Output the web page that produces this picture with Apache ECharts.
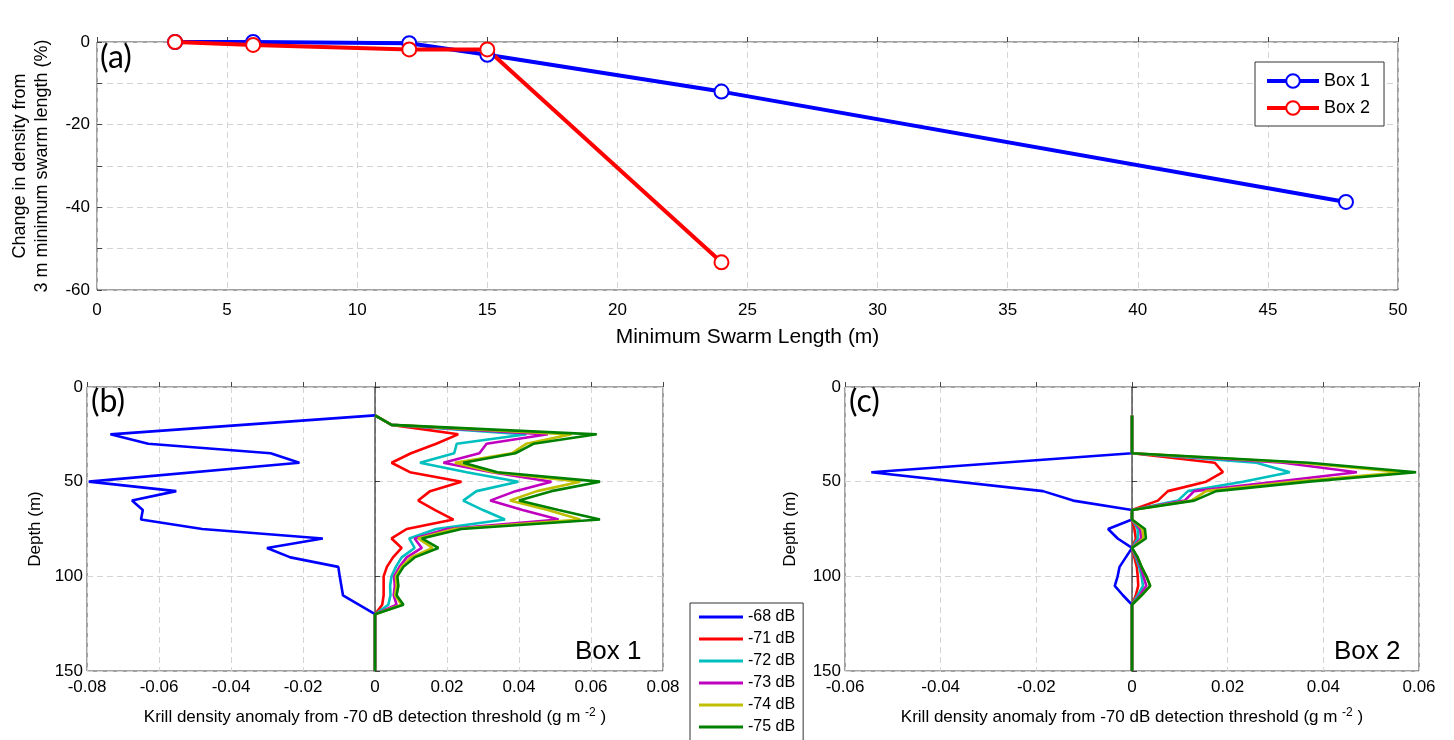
<!DOCTYPE html>
<html>
<head>
<meta charset="utf-8">
<script src="https://cdn.jsdelivr.net/npm/echarts@6/dist/echarts.min.js"></script>
<style>
  html, body { margin: 0; padding: 0; background: #fff; }
  #chart { width: 1454px; height: 740px; }
</style>
</head>
<body>
<div id="chart"></div>
<script>
// (a) change in density vs minimum swarm length
const lenBox1 = [3, 6, 12, 15, 24, 48];
const box1 = [0, 0, -0.3, -3.1, -12, -38.7];
const lenBox2 = [3, 6, 12, 15, 24];
const box2 = [0, -0.7, -1.8, -1.8, -53.3];

// (b) Box 1 anomaly profiles
const thresholds = ['-68 dB', '-71 dB', '-72 dB', '-73 dB', '-74 dB', '-75 dB'];
const depthB68 = [15, 25, 30, 35, 40, 50, 55, 60, 65, 70, 75, 80, 85, 90, 95, 100, 110, 120, 150];
const b68 = [0, -0.0735, -0.063, -0.029, -0.021, -0.0795, -0.0552, -0.0675, -0.0645, -0.065, -0.048, -0.0145, -0.030, -0.0235, -0.0102, -0.0098, -0.0089, 0, 0];
const depthB = [15, 20, 25, 30, 35, 40, 45, 50, 55, 60, 65, 70, 75, 80, 85, 90, 95, 100, 105, 110, 115, 120, 150];
const b71 = [0, 0.0046, 0.0231, 0.017, 0.010, 0.0046, 0.0097, 0.024, 0.0153, 0.012, 0.0167, 0.0218, 0.0088, 0.0046, 0.0074, 0.005, 0.0033, 0.0024, 0.0024, 0.0024, 0.002, 0, 0];
const b72 = [0, 0.0046, 0.0421, 0.0227, 0.022, 0.0125, 0.0255, 0.0398, 0.0282, 0.0245, 0.030, 0.0361, 0.017, 0.0095, 0.011, 0.0074, 0.0058, 0.0046, 0.0042, 0.0043, 0.0037, 0, 0];
const b73 = [0, 0.0046, 0.048, 0.031, 0.029, 0.019, 0.0324, 0.049, 0.039, 0.032, 0.041, 0.051, 0.020, 0.011, 0.013, 0.0088, 0.0068, 0.0053, 0.0055, 0.0052, 0.006, 0, 0];
const b74 = [0, 0.0046, 0.0546, 0.042, 0.038, 0.0222, 0.033, 0.057, 0.045, 0.0375, 0.048, 0.057, 0.022, 0.012, 0.016, 0.010, 0.0074, 0.0058, 0.006, 0.0056, 0.0074, 0, 0];
const b75 = [0, 0.0046, 0.0616, 0.044, 0.039, 0.0245, 0.034, 0.0625, 0.049, 0.040, 0.051, 0.0625, 0.024, 0.013, 0.0176, 0.011, 0.0079, 0.0062, 0.0065, 0.006, 0.0079, 0, 0];

// (c) Box 2 anomaly profiles
const depthC68 = [15, 35, 45, 55, 60, 65, 70, 75, 80, 85, 90, 95, 100, 105, 110, 115, 150];
const c68 = [0, 0, -0.0545, -0.0186, -0.0123, 0, 0, -0.005, -0.003, 0, -0.0013, -0.0026, -0.003, -0.0036, -0.0019, 0, 0];
const depthC = [15, 35, 40, 45, 50, 55, 60, 65, 70, 75, 80, 85, 90, 95, 100, 105, 110, 115, 150];
const c71 = [0, 0, 0.0173, 0.019, 0.0155, 0.0075, 0.0054, 0, 0, 0.0005, 0.0008, 0, 0.0005, 0.001, 0.0012, 0.0013, 0.0008, 0, 0];
const c72 = [0, 0, 0.026, 0.033, 0.0232, 0.0117, 0.0096, 0, 0, 0.0012, 0.0012, 0, 0.0008, 0.0015, 0.002, 0.0023, 0.0012, 0, 0];
const c73 = [0, 0, 0.0316, 0.047, 0.030, 0.013, 0.011, 0, 0, 0.0017, 0.0019, 0, 0.001, 0.0018, 0.0024, 0.003, 0.0016, 0, 0];
const c74 = [0, 0, 0.035, 0.0567, 0.034, 0.0155, 0.0124, 0, 0, 0.0022, 0.0024, 0, 0.0012, 0.002, 0.003, 0.0038, 0.002, 0, 0];
const c75 = [0, 0, 0.037, 0.0594, 0.037, 0.0176, 0.013, 0, 0, 0.0027, 0.0029, 0, 0.0012, 0.002, 0.003, 0.0038, 0.002, 0, 0];

const zeroLine = [0, 150];

const colors = ['#0000ff', '#ff0000', '#00bfbf', '#bf00bf', '#bfbf00', '#008000'];
const FONT = '"Liberation Sans", Arial, sans-serif';

const profB = [[depthB68, b68], [depthB, b71], [depthB, b72], [depthB, b73], [depthB, b74], [depthB, b75]];
const profC = [[depthC68, c68], [depthC, c71], [depthC, c72], [depthC, c73], [depthC, c74], [depthC, c75]];

const grid = { color: '#d4d4d4', type: [6, 4], width: 1 };
const tick = { inside: true, length: 5, lineStyle: { color: '#444' } };
const lab = { color: '#000', fontSize: 17, fontFamily: FONT };
const fmt2 = v => Math.abs(v) < 1e-9 ? '0' : v.toFixed(2);

const krillName = {
  name: 'Krill density anomaly from -70 dB detection threshold (g m {sup|-2} )',
  nameLocation: 'middle',
  nameGap: 36,
  nameTextStyle: {
    color: '#000', fontSize: 17, fontFamily: FONT,
    rich: { sup: { fontSize: 12, fontFamily: FONT, color: '#000', verticalAlign: 'bottom', padding: [0, 0, 9, 0] } }
  }
};

const series = [];
series.push({
  name: 'Box 1', type: 'line', xAxisIndex: 0, yAxisIndex: 0, clip: false,
  data: lenBox1.map((x, i) => [x, box1[i]]),
  symbol: 'emptyCircle', symbolSize: 14, color: colors[0],
  lineStyle: { width: 4 }, itemStyle: { borderWidth: 4 }
});
series.push({
  name: 'Box 2', type: 'line', xAxisIndex: 0, yAxisIndex: 0, clip: false,
  data: lenBox2.map((x, i) => [x, box2[i]]),
  symbol: 'emptyCircle', symbolSize: 14, color: colors[1],
  lineStyle: { width: 4 }, itemStyle: { borderWidth: 4 }
});

// thin black zero line in panels b and c
[1, 2].forEach(g => {
  series.push({
    type: 'line', xAxisIndex: g, yAxisIndex: g, symbol: 'none', silent: true,
    data: zeroLine.map(d => [0, d]), color: '#000', lineStyle: { width: 1 }
  });
});

[[1, profB], [2, profC]].forEach(([g, prof]) => {
  prof.forEach(([depths, vals], k) => {
    series.push({
      name: thresholds[k], type: 'line', xAxisIndex: g, yAxisIndex: g,
      symbol: 'none', color: colors[k], lineStyle: { width: 2.6 },
      data: depths.map((d, i) => [vals[i], d])
    });
  });
});

const chart = echarts.init(document.getElementById('chart'));
chart.setOption({
  animation: false,
  backgroundColor: '#fff',
  grid: [
    { left: 97, top: 42, width: 1301, height: 248, show: true, borderColor: '#444', borderWidth: 1 },
    { left: 87, top: 387, width: 576, height: 284, show: true, borderColor: '#444', borderWidth: 1 },
    { left: 845, top: 387, width: 574, height: 284, show: true, borderColor: '#444', borderWidth: 1 }
  ],
  xAxis: [
    {
      gridIndex: 0, type: 'value', min: 0, max: 50, interval: 5,
      axisLine: { show: false }, axisTick: tick,
      axisLabel: Object.assign({ margin: 12 }, lab),
      splitLine: { lineStyle: grid },
      name: 'Minimum Swarm Length (m)', nameLocation: 'middle', nameGap: 37,
      nameTextStyle: { color: '#000', fontSize: 21, fontFamily: FONT }
    },
    Object.assign({
      gridIndex: 1, type: 'value', min: -0.08, max: 0.08, interval: 0.02,
      axisLine: { show: false }, axisTick: tick,
      axisLabel: Object.assign({ margin: 8, formatter: fmt2 }, lab),
      splitLine: { lineStyle: grid }
    }, krillName),
    Object.assign({
      gridIndex: 2, type: 'value', min: -0.06, max: 0.06, interval: 0.02,
      axisLine: { show: false }, axisTick: tick,
      axisLabel: Object.assign({ margin: 8, formatter: fmt2 }, lab),
      splitLine: { lineStyle: grid }
    }, krillName)
  ],
  yAxis: [
    {
      gridIndex: 0, type: 'value', min: -60, max: 0, interval: 10,
      axisLine: { show: false }, axisTick: tick,
      axisLabel: Object.assign({ margin: 7, formatter: v => (v % 20 === 0 ? String(v) : '') }, lab),
      splitLine: { lineStyle: grid },
      name: 'Change in density from\n3 m minimum swarm length (%)', nameLocation: 'middle', nameGap: 44,
      nameTextStyle: { color: '#000', fontSize: 18, lineHeight: 22, fontFamily: FONT }
    },
    {
      gridIndex: 1, type: 'value', min: 0, max: 150, interval: 50, inverse: true,
      axisLine: { show: false }, axisTick: tick,
      axisLabel: Object.assign({ margin: 4 }, lab),
      splitLine: { lineStyle: grid },
      name: 'Depth (m)', nameLocation: 'middle', nameGap: 43,
      nameTextStyle: { color: '#000', fontSize: 17, fontFamily: FONT }
    },
    {
      gridIndex: 2, type: 'value', min: 0, max: 150, interval: 50, inverse: true,
      axisLine: { show: false }, axisTick: tick,
      axisLabel: Object.assign({ margin: 4 }, lab),
      splitLine: { lineStyle: grid },
      name: 'Depth (m)', nameLocation: 'middle', nameGap: 46,
      nameTextStyle: { color: '#000', fontSize: 17, fontFamily: FONT }
    }
  ],
  legend: [
    {
      data: ['Box 1', 'Box 2'], orient: 'vertical', left: 1255, top: 62,
      itemWidth: 52, itemHeight: 17, itemGap: 9, padding: [10, 14, 9, 10],
      borderColor: '#333', borderWidth: 1, backgroundColor: '#fff',
      lineStyle: { width: 4 }, itemStyle: { borderWidth: 3.5 },
      textStyle: { color: '#000', fontSize: 18, fontFamily: FONT }
    },
    {
      data: thresholds, orient: 'vertical', left: 690, top: 603, height: 160,
      icon: 'rect', itemWidth: 44, itemHeight: 3, itemGap: 4, padding: [5, 8, 8, 9],
      borderColor: '#333', borderWidth: 1, backgroundColor: '#fff',
      textStyle: { color: '#000', fontSize: 16, lineHeight: 18, fontFamily: FONT }
    }
  ],
  graphic: [
    { type: 'text', left: 100, top: 42, style: { text: '(a)', font: '32px Lato, "DejaVu Sans", sans-serif', fill: '#000' } },
    { type: 'text', left: 91, top: 386, style: { text: '(b)', font: '32px Lato, "DejaVu Sans", sans-serif', fill: '#000' } },
    { type: 'text', left: 849, top: 386, style: { text: '(c)', font: '32px Lato, "DejaVu Sans", sans-serif', fill: '#000' } },
    { type: 'text', left: 575, top: 639, style: { text: 'Box 1', font: '26px "Liberation Sans", Arial, sans-serif', fill: '#000' } },
    { type: 'text', left: 1334, top: 639, style: { text: 'Box 2', font: '26px "Liberation Sans", Arial, sans-serif', fill: '#000' } }
  ],
  series: series
});
</script>
</body>
</html>
